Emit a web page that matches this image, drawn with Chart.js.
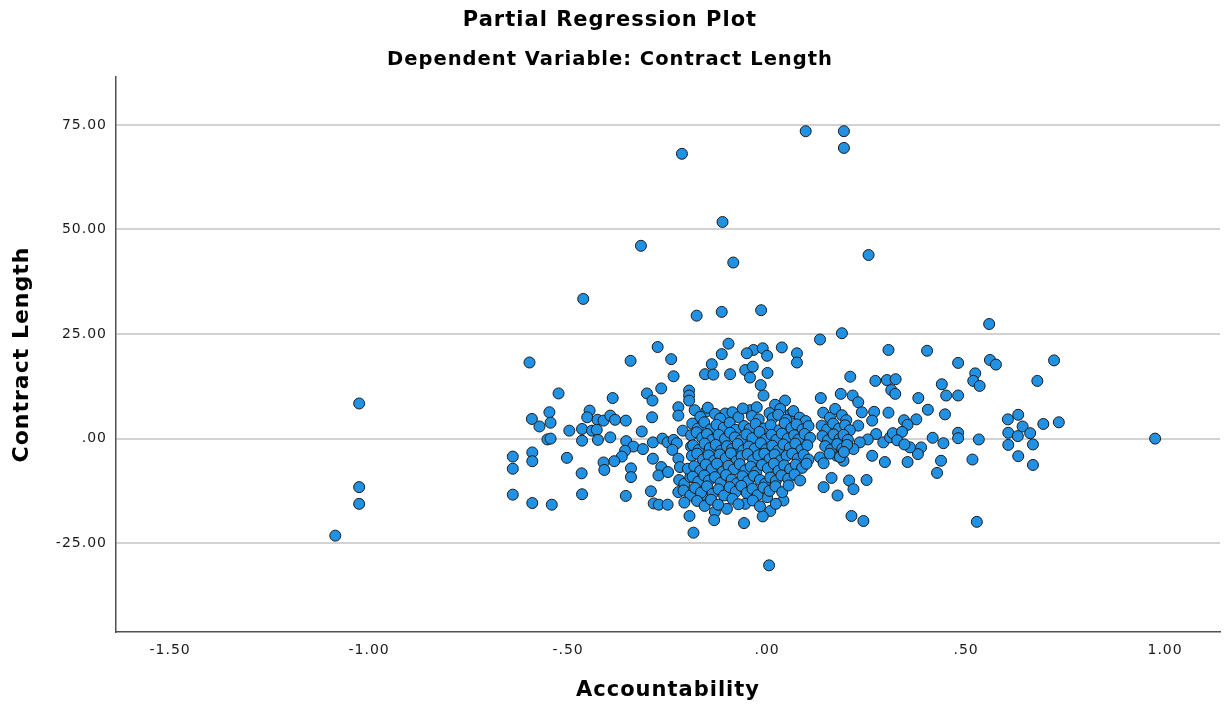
<!DOCTYPE html>
<html>
<head>
<meta charset="utf-8">
<script src="https://cdn.jsdelivr.net/npm/chart.js@4.4.1/dist/chart.umd.min.js"></script>
<style>
  html, body { margin: 0; padding: 0; background: #fff; }
  #wrap { width: 1228px; height: 709px; }
</style>
</head>
<body>
<div id="wrap"><canvas id="plot" width="1228" height="709"></canvas></div>
<script>
// axis ticks
const xTicks = [-1.5, -1.0, -0.5, 0, 0.5, 1.0];
const yTicks = [-25, 0, 25, 50, 75];

// points, [accountability, contract length]
const leftOutliers = [[-1.085,-23.2],[-1.025,8.4],[-1.025,-11.6],[-1.025,-15.6]];

const highPoints = [
  [0.097,73.5],[0.193,73.5],[0.193,69.5],[-0.214,68.1],[-0.112,51.8],[-0.317,46.1],
  [-0.085,42.1],[0.255,43.9],[-0.462,33.4],[-0.177,29.4],[-0.114,30.3],[-0.015,30.7],
  [0.188,25.2],[0.133,23.7],[0.558,27.4]
];

const lowPoints = [[0.005,-30.3],[0.975,0.0]];

const leftCluster = [
  [-0.597,18.2],[-0.524,10.8],[-0.343,18.6],[-0.275,21.9],[-0.241,19.0],[-0.235,14.9],
  [-0.266,12.0],[-0.302,10.8],[-0.288,9.1],[-0.388,9.7],[-0.223,7.5],[-0.223,5.5],
  [-0.289,5.1],[-0.547,6.3],[-0.591,4.7],[-0.572,2.9],[-0.544,3.8],[-0.497,1.9],
  [-0.552,-0.2],[-0.544,0.0],[-0.446,6.7],[-0.452,5.1],[-0.426,4.5],[-0.411,4.3],
  [-0.394,5.5],[-0.382,4.5],[-0.355,4.3],[-0.465,2.3],[-0.440,1.9],[-0.428,2.1],
  [-0.465,-0.5],[-0.425,-0.3],[-0.394,0.3],[-0.315,1.7],[-0.354,-0.6],[-0.336,-1.9],
  [-0.312,-2.5],[-0.287,-0.9],[-0.263,0.0],[-0.250,-0.9],[-0.235,-0.3],[-0.227,-1.1],
  [-0.212,1.9],[-0.357,-2.9],[-0.365,-4.3],[-0.384,-5.4],[-0.411,-5.7],[-0.409,-7.5],
  [-0.342,-7.1],[-0.342,-9.2],[-0.287,-4.8],[-0.266,-6.8],[-0.273,-8.8],[-0.249,-8.0],
  [-0.238,-2.7],[-0.223,-4.8],[-0.219,-6.8],[-0.292,-12.6],[-0.285,-15.5],[-0.272,-15.8],
  [-0.250,-15.8],[-0.355,-13.7],[-0.466,-8.3],[-0.465,-13.3],[-0.503,-4.6],[-0.590,-3.3],
  [-0.590,-5.4],[-0.639,-4.3],[-0.639,-7.2],[-0.639,-13.4],[-0.590,-15.4],[-0.541,-15.8],
  [-0.196,11.5],[-0.196,10.3],[-0.196,9.1],[-0.221,-9.9],[-0.208,-10.8],[-0.193,-9.2],
  [-0.223,-12.8],[-0.210,-12.4],[-0.193,-13.6],[-0.208,-15.3],[-0.195,-18.5],[-0.185,-22.5],
  [-0.191,-1.9],[-0.199,-7.2]
];

const upperMiddle = [
  [-0.097,22.7],[-0.034,21.2],[-0.011,21.6],[0.037,21.8],[-0.114,20.2],[-0.051,20.4],
  [0.000,19.8],[0.075,20.4],[0.075,18.2],[-0.139,17.8],[-0.156,15.4],[-0.135,15.3],
  [-0.093,15.4],[-0.055,16.4],[-0.036,17.2],[-0.043,14.6],[0.001,15.7],[-0.016,12.8],
  [-0.009,10.3],[0.209,14.8],[0.135,9.7],[0.185,10.7],[0.215,10.3],[0.045,9.1],
  [0.020,8.1],[0.033,7.1],[-0.043,6.8],[-0.026,7.5],[0.059,5.9],[-0.153,6.5],[-0.105,6.0]
];

const lowerMiddle = [
  [0.041,-14.8],[0.008,-17.3],[-0.011,-18.6],[-0.058,-20.2],[-0.131,-17.5],[-0.133,-19.5],
  [-0.101,-16.8],[-0.055,-15.6],[0.000,-14.0],[-0.160,-13.4],[0.142,-11.6],[0.177,-13.6],
  [0.212,-18.5],[0.162,-9.4],[0.206,-10.0],[0.217,-12.1],[0.133,-4.5],[0.142,-5.9],
  [0.175,-4.1],[0.192,-5.3]
];

const rightCluster = [
  [0.305,21.2],[0.402,21.0],[0.560,18.8],[0.575,17.7],[0.721,18.7],[0.480,18.1],
  [0.523,15.6],[0.518,13.8],[0.534,12.6],[0.679,13.8],[0.272,13.8],[0.301,14.0],
  [0.323,14.2],[0.312,11.6],[0.322,10.7],[0.439,13.0],[0.450,10.3],[0.480,10.3],
  [0.380,9.7],[0.404,6.9],[0.447,5.8],[0.305,6.2],[0.269,6.4],[0.375,4.6],
  [0.344,4.4],[0.353,3.3],[0.605,4.6],[0.631,5.7],[0.642,2.9],[0.694,3.5],
  [0.733,3.9],[0.606,1.4],[0.630,0.6],[0.661,1.3],[0.668,-1.4],[0.606,-1.5],
  [0.631,-4.2],[0.668,-6.3],[0.480,1.4],[0.480,0.1],[0.532,-0.2],[0.443,-1.1],
  [0.416,0.2],[0.516,-5.0],[0.437,-5.3],[0.427,-8.2],[0.527,-19.9],[0.387,-2.1],
  [0.379,-3.7],[0.353,-5.6],[0.359,-2.1],[0.296,-5.6],[0.264,-4.1],[0.250,-9.9],
  [0.242,-19.7],[0.292,-0.9],[0.274,1.1],[0.253,-0.2],[0.233,-0.9],[0.217,-2.5],
  [0.229,8.7],[0.238,6.3],[0.264,4.3],[0.229,3.1],[0.309,0.3],[0.316,1.3],
  [0.339,1.6],[0.327,-0.4],[0.345,-1.4]
];

const denseCore = [
  [-0.182,6.8],[-0.168,5.2],[-0.149,7.4],[-0.131,5.9],[-0.118,4.8],[-0.087,6.3],[-0.072,5.1],
  [-0.061,7.2],[-0.038,5.4],[-0.021,4.6],[0.006,6.1],[0.014,4.9],[0.028,5.7],[0.048,4.5],
  [0.066,6.6],[0.082,5.0],[0.097,4.2],[0.141,6.2],[0.158,5.0],[0.171,7.1],[0.188,5.6],[0.199,4.4],
  [-0.188,3.6],[-0.174,2.4],[-0.158,3.9],[-0.142,2.2],[-0.127,3.3],[-0.109,2.6],[-0.094,3.8],
  [-0.079,2.1],[-0.058,3.0],[-0.044,2.3],[-0.029,3.5],[-0.008,2.4],[0.009,3.2],[0.031,2.0],
  [0.044,3.7],[0.061,2.5],[0.074,3.4],[0.089,2.2],[0.104,3.0],[0.137,3.1],[0.151,2.2],
  [0.166,3.6],[0.181,2.4],[0.196,3.2],[0.208,2.0],
  [-0.191,0.8],[-0.177,1.5],[-0.163,0.2],[-0.151,1.1],[-0.138,-0.3],[-0.122,0.9],[-0.106,-0.1],
  [-0.093,1.4],[-0.081,0.3],[-0.066,-0.4],[-0.052,1.0],[-0.037,0.1],[-0.019,1.6],[-0.004,-0.2],
  [0.011,0.9],[0.023,-0.3],[0.037,1.2],[0.052,0.0],[0.068,0.8],[0.079,-0.2],[0.094,1.1],
  [0.108,0.2],[0.139,0.6],[0.153,-0.4],[0.167,1.0],[0.182,-0.1],[0.192,0.9],[0.203,-0.3],
  [-0.186,-1.6],[-0.172,-2.7],[-0.157,-1.2],[-0.144,-2.3],[-0.129,-1.5],[-0.116,-2.9],
  [-0.101,-1.8],[-0.088,-2.5],[-0.074,-1.3],[-0.060,-2.8],[-0.046,-1.9],[-0.031,-2.4],
  [-0.016,-1.1],[-0.002,-2.6],[0.013,-1.7],[0.027,-2.9],[0.041,-1.4],[0.057,-2.2],[0.071,-1.2],
  [0.086,-2.7],[0.101,-1.6],[0.146,-1.8],[0.161,-2.6],[0.176,-1.3],[0.189,-2.4],[0.201,-1.5],
  [-0.189,-4.1],[-0.176,-3.6],[-0.161,-5.0],[-0.147,-4.0],[-0.133,-5.3],[-0.119,-3.8],
  [-0.104,-4.7],[-0.091,-3.5],[-0.077,-5.4],[-0.064,-4.2],[-0.049,-3.7],[-0.035,-5.1],
  [-0.022,-4.0],[-0.007,-3.6],[0.006,-4.9],[0.019,-3.8],[0.034,-5.2],[0.049,-4.1],[0.063,-3.6],
  [0.077,-4.8],[0.092,-3.9],[0.104,-5.0],[0.157,-3.6],[0.183,-4.4],[0.193,-3.2],
  [-0.183,-6.6],[-0.168,-7.7],[-0.154,-6.2],[-0.139,-7.3],[-0.126,-6.0],[-0.111,-7.9],
  [-0.097,-6.5],[-0.084,-7.4],[-0.069,-6.1],[-0.055,-7.6],[-0.041,-6.7],[-0.027,-7.9],
  [-0.013,-6.3],[0.002,-7.1],[0.017,-6.0],[0.029,-7.7],[0.043,-6.4],[0.058,-7.3],[0.072,-6.2],
  [0.088,-7.0],[0.099,-6.0],
  [-0.187,-9.1],[-0.173,-10.3],[-0.158,-8.8],[-0.146,-10.0],[-0.131,-9.2],[-0.117,-10.6],
  [-0.103,-8.7],[-0.089,-9.8],[-0.076,-10.7],[-0.062,-9.0],[-0.048,-10.2],[-0.033,-8.9],
  [-0.018,-9.9],[-0.005,-10.8],[0.008,-9.3],[0.022,-10.1],[0.036,-8.8],[0.053,-9.6],
  [0.069,-8.6],[0.083,-10.0],
  [-0.181,-11.8],[-0.166,-12.9],[-0.151,-11.4],[-0.137,-13.2],[-0.122,-12.1],[-0.108,-13.6],
  [-0.094,-11.6],[-0.079,-12.7],[-0.065,-11.3],[-0.051,-13.0],[-0.037,-12.0],[-0.024,-13.5],
  [-0.009,-11.7],[0.006,-12.5],[0.021,-11.4],[0.038,-12.8],[0.054,-11.2],
  [-0.176,-14.9],[-0.157,-16.1],[-0.141,-14.6],[-0.123,-15.8],[-0.087,-14.4],[-0.072,-15.7],
  [-0.036,-14.8],[-0.018,-16.2],[0.022,-15.6]
];

const allPoints = [].concat(leftOutliers, highPoints, lowPoints, leftCluster,
  upperMiddle, lowerMiddle, rightCluster, denseCore);

// SPSS style labels: 2 decimals, no leading zero
function fmt(v){
  return Number(v).toFixed(2).replace(/^(-?)0\./, '$1.');
}

const FONT = 'DejaVu Sans';

// SPSS text is drawn a bit spaced out; canvas state gets reset on resize so set it every pass
const spacedText = {
  id: 'spacedText',
  beforeLayout(chart){ chart.ctx.letterSpacing = '1px'; },
  beforeDraw(chart){ chart.ctx.letterSpacing = '1px'; }
};

new Chart(document.getElementById('plot'), {
  type: 'scatter',
  plugins: [spacedText],
  data: {
    datasets: [{
      data: allPoints.map(p => ({ x: p[0], y: p[1] })),
      backgroundColor: '#2191e4',
      borderColor: '#1b1b1b',
      borderWidth: 1,
      pointRadius: 5.5,
      pointHoverRadius: 5.5
    }]
  },
  options: {
    responsive: false,
    devicePixelRatio: 1,
    animation: false,
    layout: { padding: { left: 0, right: 8, top: 0, bottom: 0 } },
    plugins: {
      legend: { display: false },
      tooltip: { enabled: false },
      title: {
        display: true,
        text: 'Partial Regression Plot',
        color: '#000',
        font: { family: FONT, size: 21, weight: 'bold', lineHeight: 1.2 },
        padding: { top: 8.4, bottom: 7 }
      },
      subtitle: {
        display: true,
        text: 'Dependent Variable: Contract Length',
        color: '#000',
        font: { family: FONT, size: 19.5, weight: 'bold', lineHeight: 1.2 },
        padding: { top: 7.7, bottom: 5.3 }
      }
    },
    scales: {
      x: {
        type: 'linear',
        min: -1.636,
        max: 1.138,
        afterBuildTicks: s => { s.ticks = xTicks.map(v => ({ value: v })); },
        afterFit: s => { s.height = 77; },
        grid: { display: false, drawTicks: false },
        border: { display: true, color: '#505050', width: 1.5 },
        ticks: { callback: v => fmt(v), color: '#1a1a1a', padding: 10, maxRotation: 0,
                 font: { family: FONT, size: 14 } },
        title: { display: true, text: 'Accountability', color: '#000',
                 font: { family: FONT, size: 21, weight: 'bold' }, padding: { top: 0, bottom: 6 } }
      },
      y: {
        type: 'linear',
        min: -46.24,
        max: 86.46,
        afterBuildTicks: s => { s.ticks = yTicks.map(v => ({ value: v })); },
        afterFit: s => { s.width = 116; },
        grid: { color: '#d2d2d2', lineWidth: 2, drawTicks: false },
        border: { display: true, color: '#505050', width: 1.5 },
        ticks: { callback: v => fmt(v), color: '#1a1a1a', padding: 9,
                 font: { family: FONT, size: 14 } },
        title: { display: true, text: 'Contract Length', color: '#000',
                 font: { family: FONT, size: 22, weight: 'bold' }, padding: { top: 9, bottom: 0 } }
      }
    }
  }
});
</script>
</body>
</html>
